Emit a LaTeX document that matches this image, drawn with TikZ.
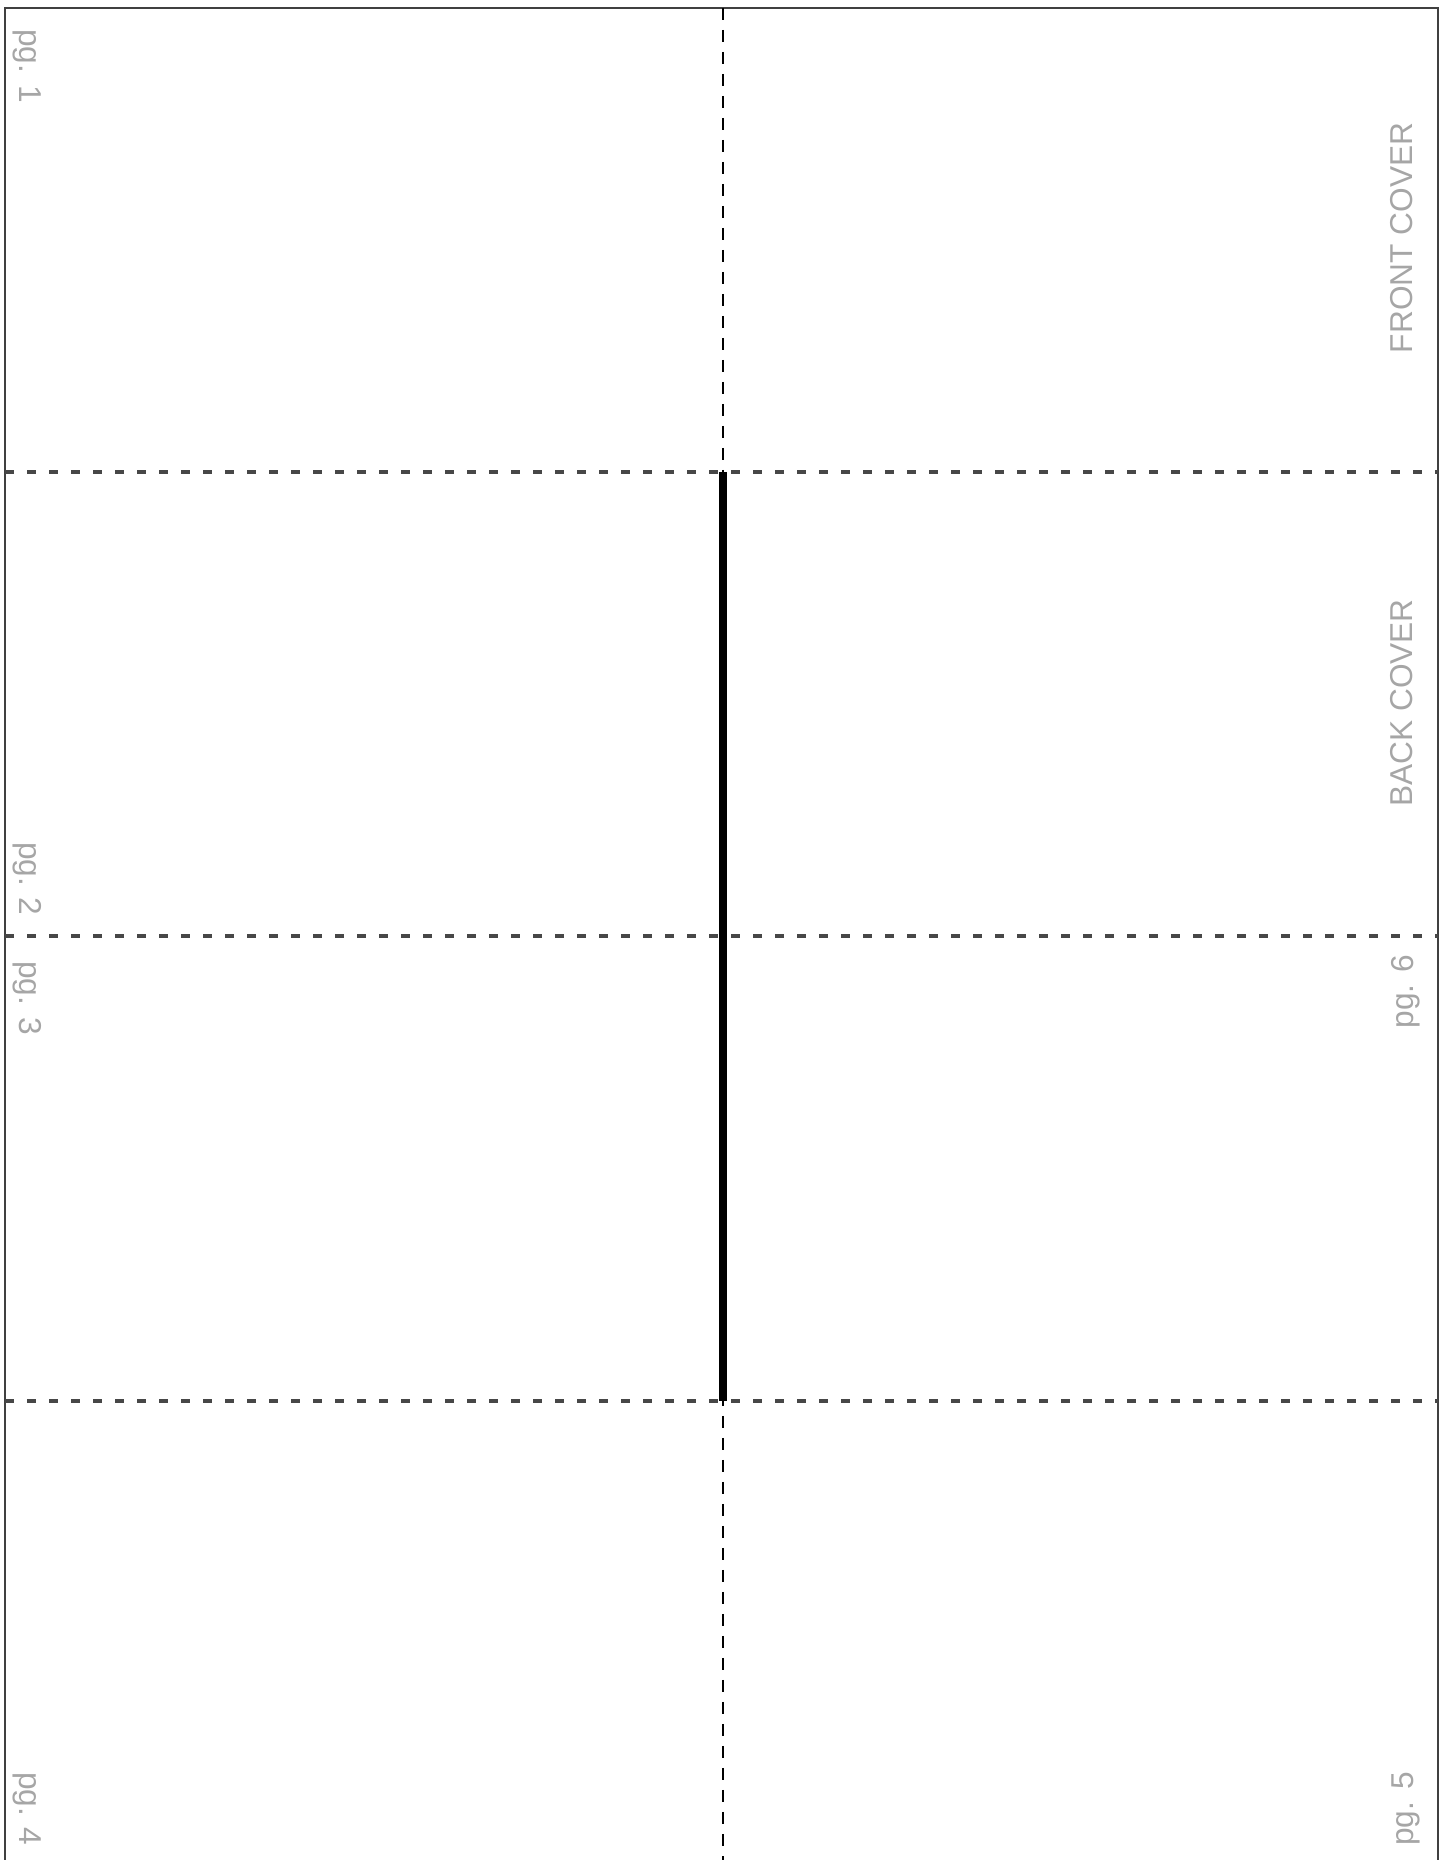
\documentclass[tikz,border=0pt]{standalone}
\usepackage{fontspec}
\setmainfont{Liberation Sans}
\usepackage{tikz}
\usetikzlibrary{backgrounds,calc}

\begin{document}
\begin{tikzpicture}[auto, thick]

        \tikzstyle{frame} = [draw=black!75, line width=0.8pt]
        \tikzstyle{fold} = [draw=black!72, line width=1pt, dash pattern=on 0.09cm off 0.13cm]
        \tikzstyle{cut} = [draw=black, line width=0.6pt, dash pattern=on 0.12cm off 0.10cm]
        \tikzstyle{spine} = [draw=black, line width=2.5pt]
        \tikzstyle{lbl} = [inner sep=0pt, text=black!35, font=\fontsize{9}{10}\selectfont]

        \useasboundingbox (0,0) rectangle (14.48,18.60);

        % corners of the sheet
        \coordinate (tl) at (0.05,18.52);
        \coordinate (tr) at (14.38,18.52);
        \coordinate (bl) at (0.05,0);
        \coordinate (br) at (14.38,0);

        % fold rows
        \coordinate (l1) at (0.05,13.88);
        \coordinate (r1) at (14.38,13.88);
        \coordinate (l2) at (0.05,9.24);
        \coordinate (r2) at (14.38,9.24);
        \coordinate (l3) at (0.05,4.59);
        \coordinate (r3) at (14.38,4.59);

        % middle column
        \coordinate (mt) at (7.23,18.52);
        \coordinate (mb) at (7.23,0);
        \coordinate (s1) at (7.23,13.88);
        \coordinate (s2) at (7.23,4.59);

        \draw [frame] (bl) -- (tl) -- (tr) -- (br);

        \draw [fold] (l1) -- (r1);
        \draw [fold] (l2) -- (r2);
        \draw [fold] (l3) -- (r3);

        \draw [cut] (mt) -- (mb);
        \draw [spine] (s1) -- (s2);

        \node [lbl, rotate=-90, anchor=base west] (pg1) at (0.20,18.32) {pg. 1};
        \node [lbl, rotate=-90, anchor=base east] (pg2) at (0.20,9.43) {pg. 2};
        \node [lbl, rotate=-90, anchor=base west] (pg3) at (0.20,9.00) {pg. 3};
        \node [lbl, rotate=-90, anchor=base east] (pg4) at (0.20,0.13) {pg. 4};

        \node [lbl, rotate=90, anchor=base] (front) at (14.12,16.22) {FRONT COVER};
        \node [lbl, rotate=90, anchor=base] (back) at (14.12,11.57) {BACK COVER};
        \node [lbl, rotate=90, anchor=base west] (pg6) at (14.13,8.30) {pg. 6};
        \node [lbl, rotate=90, anchor=base west] (pg5) at (14.13,0.13) {pg. 5};

    \end{tikzpicture}
\end{document}
